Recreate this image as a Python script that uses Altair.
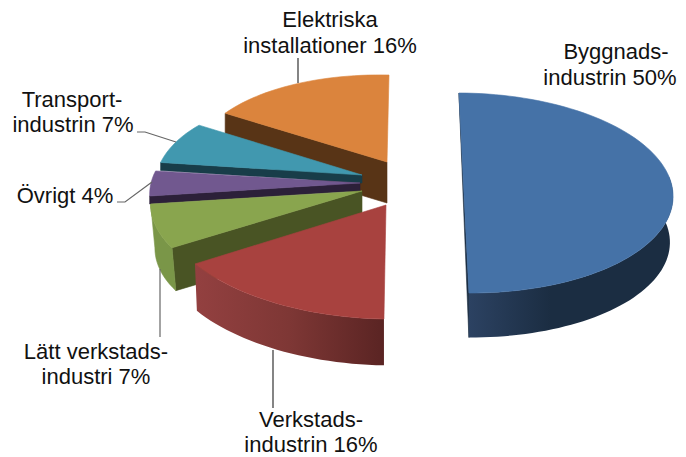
import math
import altair as alt
import pandas as pd

categories = ["Byggnadsindustrin", "Verkstadsindustrin", "Lätt verkstadsindustri",
              "Övrigt", "Transportindustrin", "Elektriska installationer"]
shares = [50, 16, 7, 4, 7, 16]

top_colors = ["#4572A7", "#A8423F", "#89A54E", "#71588F", "#4198AF", "#DB843D"]
cut_colors = ["#1B2D42", "#5E2423", "#495424", "#2C2039", "#183D49", "#583416"]

# layout of each exploded slice: apex, rim radii at the slice's start/end angle, shear, depth, shrink
layout = [
    dict(A=(464, 194), rx=(209, 209), ry=(101, 99), s=0.05, h=46, f=0.985),
    dict(A=(386, 205), rx=(225, 225), ry=(114, 110), s=-0.018, h=47.5, f=0.99),
    dict(A=(362, 191), rx=(225, 213), ry=(106, 104), s=0.0, h=44, f=0.98),
    dict(A=(360, 183), rx=(212, 206), ry=(104, 96), s=0.0, h=8, f=1.0),
    dict(A=(362, 175), rx=(203, 193), ry=(100, 93), s=0.0, h=8, f=1.0),
    dict(A=(387, 162), rx=(193, 193), ry=(91, 87), s=-0.023, h=41, f=1.0),
]

label_lines = ["Byggnads-", "industrin 50%", "Verkstads-", "industrin 16%", "Lätt verkstads-",
               "industri 7%", "Övrigt 4%", "Transport-", "industrin 7%", "Elektriska",
               "installationer 16%"]
label_x = [616, 610, 311, 311, 96, 96, 65, 72, 73, 330, 330]
label_y = [59, 85, 427, 452, 359, 384, 203, 107, 132, 27, 53]

leaders = [
    [(298, 58), (298, 83)],
    [(137, 132), (145, 132), (176, 142)],
    [(117, 202), (125, 202), (152, 182)],
    [(160, 269), (160, 337)],
    [(273, 350), (273, 408)],
]

X = alt.X("x:Q", scale=alt.Scale(domain=[8, 678]), axis=None)
Y = alt.Y("y:Q", scale=alt.Scale(domain=[457, 8]), axis=None)


def rim(L, a0, a1, a, depth=False):
    t = (a - a0) / (a1 - a0)
    rx = L["rx"][0] + t * (L["rx"][1] - L["rx"][0])
    ry = L["ry"][0] + t * (L["ry"][1] - L["ry"][0])
    r = math.radians(a)
    f = L["f"] if depth else 1.0
    dx = rx * math.sin(r) * f
    dy = -ry * math.cos(r) * f
    return (L["A"][0] + dx + L["s"] * dy, L["A"][1] + dy + (L["h"] if depth else 0))


def arc(L, a0, a1, b0, b1, depth=False):
    n = max(2, int(abs(b1 - b0) / 2))
    return [rim(L, a0, a1, b0 + (b1 - b0) * i / n, depth) for i in range(n + 1)]


def poly(points, fill):
    df = pd.DataFrame({"x": [p[0] for p in points] + [points[0][0]],
                       "y": [p[1] for p in points] + [points[0][1]],
                       "i": list(range(len(points) + 1))})
    stroke = fill if isinstance(fill, str) else None
    kw = dict(stroke=stroke, strokeWidth=0.6) if stroke else dict(strokeWidth=0)
    return alt.Chart(df).mark_line(filled=True, fill=fill, **kw).encode(
        x=X, y=Y, order=alt.Order("i:Q"))


def grad(stops):
    return alt.Gradient(gradient="linear", x1=0, x2=1, y1=0, y2=0,
                        stops=[alt.GradientStop(color=c, offset=o) for o, c in stops])


starts = []
cum = 0
for v in shares:
    starts.append((cum * 3.6, (cum + v) * 3.6))
    cum += v

layers = []
# back to front
for k in [5, 4, 3, 2, 1, 0]:
    L = layout[k]
    a0, a1 = starts[k]
    A = L["A"]
    Ad = (A[0], A[1] + L["h"])
    if k == 5:   # Elektriska: cut face towards the viewer at its start
        layers.append(poly([rim(L, a0, a1, a0), A, Ad, rim(L, a0, a1, a0, True)], cut_colors[k]))
    if k in (4, 3, 2):
        e = a0
        layers.append(poly([rim(L, a0, a1, e), A, Ad, rim(L, a0, a1, e, True)], cut_colors[k]))
    if k == 2:
        wall = arc(L, a0, a1, a0, a1) + arc(L, a0, a1, a1, a0, True)
        layers.append(poly(wall, "#7A9648"))
    if k == 1:
        wall = arc(L, a0, a1, a0, a1) + arc(L, a0, a1, a1, a0, True)
        layers.append(poly(wall, grad([(0, "#934040"), (0.5, "#7E3735"), (1, "#5A2423")])))
    if k == 0:
        layers.append(poly([rim(L, a0, a1, 0), rim(L, a0, a1, 180), rim(L, a0, a1, 180, True)],
                           cut_colors[0]))
        wall = arc(L, a0, a1, 80, 180) + arc(L, a0, a1, 180, 80, True)
        layers.append(poly(wall, grad([(0, "#2C4262"), (0.4, "#1B2D42"), (1, "#1B2D42")])))
    layers.append(poly([A] + arc(L, a0, a1, a0, a1), top_colors[k]))

for n, seg in enumerate(leaders):
    df = pd.DataFrame({"x": [p[0] for p in seg], "y": [p[1] for p in seg], "i": range(len(seg))})
    layers.append(alt.Chart(df).mark_line(color="#333333" if n in (0, 4) else "#666666",
                                          strokeWidth=1.2).encode(x=X, y=Y, order=alt.Order("i:Q")))

text_df = pd.DataFrame({"x": label_x, "y": label_y, "t": label_lines})
layers.append(alt.Chart(text_df).mark_text(font="Liberation Sans", fontSize=22, color="#111111",
                                           align="center", baseline="alphabetic").encode(
    x=X, y=Y, text="t:N"))

chart = alt.layer(*layers).properties(width=670, height=449, padding=0).configure_view(stroke=None)
chart.save("out.html", embed_options={"renderer": "svg", "actions": False})
